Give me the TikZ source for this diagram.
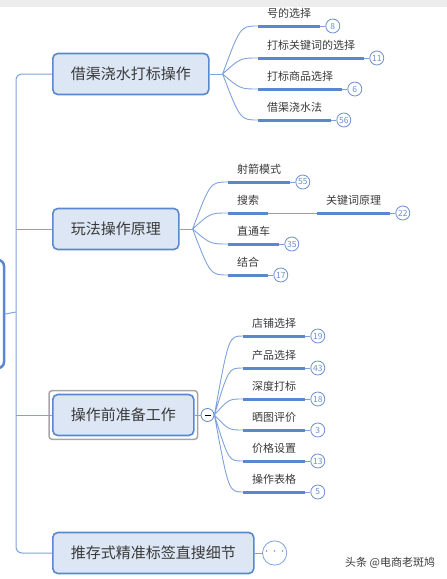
\documentclass[tikz,border=0pt]{standalone}
\usepackage{fontspec}
\setmainfont{Noto Sans CJK SC}
\usetikzlibrary{positioning,fit,calc}
\definecolor{linec}{HTML}{5A88CF}
\definecolor{twigc}{HTML}{7FA2DA}
\definecolor{boxfill}{HTML}{DCE6F4}
\definecolor{numc}{HTML}{6D91D0}
\definecolor{textc}{HTML}{3A3A3A}
\definecolor{selgray}{HTML}{A6A6A6}
\definecolor{topgray}{HTML}{EDEDED}
\tikzset{
  mainbox/.style={draw=linec, line width=1.6pt, fill=boxfill, rounded corners=5pt, anchor=west,
    minimum height=41pt, inner xsep=18pt, font=\fontsize{15}{15}\selectfont, text=textc},
  rootbox/.style={draw=linec, line width=2.5pt, fill=white, rounded corners=6pt,
    minimum width=58pt, minimum height=108pt},
  selframe/.style={draw=selgray, line width=1.5pt, rounded corners=3pt, inner sep=3pt},
  leaf/.style={anchor=south west, inner xsep=9pt, inner ysep=0pt, text depth=8pt,
    font=\fontsize{11}{11}\selectfont, text=textc},
  num/.style={circle, draw=numc, fill=white, line width=0.8pt, minimum size=14pt, inner sep=0pt,
    font=\fontsize{8.5}{8.5}\selectfont, text=numc},
  collapse/.style={circle, draw=linec, fill=white, line width=0.8pt, minimum size=13pt, inner sep=0pt},
  trunk/.style={twigc, line width=1pt},
  twig/.style={twigc, line width=0.9pt},
  bar/.style={linec, line width=3pt},
  leafcurve/.style={to path={.. controls ($(\tikztostart |- \tikztotarget)!0.5!(\tikztotarget)$) .. (\tikztotarget)}}
}
\begin{document}
\begin{tikzpicture}[x=1pt, y=-1pt]
  \clip (0,0) rectangle (447,579);
  \fill[topgray] (0,0) rectangle (447,7); % top strip

  % root and main topics
  \node[rootbox] (root) at (-25,314) {};
  \node[mainbox] (n1) at (52,74) {借渠浇水打标操作};
  \node[mainbox] (n2) at (52,229) {玩法操作原理};
  \node[mainbox] (n3) at (52,415) {操作前准备工作};
  \node[mainbox] (n4) at (52,553) {推存式精准标签直搜细节};
  \node[selframe, fit=(n3)] (n3sel) {};

  \coordinate (tr) at (16,312);
  \draw[trunk, rounded corners=6pt] (n1.west) -| (tr) |- (n4.west);
  \draw[trunk] (tr |- n2.west) -- (n2.west);
  \draw[trunk] (tr |- n3.west) -- (n3.west);
  \draw[trunk] (root.east) -- (tr);

  % branch 1
  \coordinate[right=13pt of n1.east] (f1);
  \node[leaf] (t11) at (258,26) {号的选择};
  \node[leaf] (t12) at (258,58) {打标关键词的选择};
  \node[leaf] (t13) at (258,89) {打标商品选择};
  \node[leaf] (t14) at (258,120) {借渠浇水法};
  \node[num, right=5pt of t11.south east] (c11) {8};
  \node[num, right=5pt of t12.south east] (c12) {11};
  \node[num, right=5pt of t13.south east] (c13) {6};
  \node[num, right=5pt of t14.south east] (c14) {56};
  \draw[twig] (n1.east) -- (f1);
  \draw[twig] (f1) to[leafcurve] (t11.south west) (f1) to[leafcurve] (t12.south west)
    (f1) to[leafcurve] (t13.south west) (f1) to[leafcurve] (t14.south west);
  \draw[twig] (t11.south east) -- (c11) (t12.south east) -- (c12)
    (t13.south east) -- (c13) (t14.south east) -- (c14);
  \draw[bar] (t11.south west) -- (t11.south east) (t12.south west) -- (t12.south east)
    (t13.south west) -- (t13.south east) (t14.south west) -- (t14.south east);

  % branch 2
  \coordinate[right=13pt of n2.east] (f2);
  \node[leaf] (t21) at (228,182) {射箭模式};
  \node[leaf] (t22) at (228,213) {搜索};
  \node[leaf] (t22b) at (317,213) {关键词原理};
  \node[leaf] (t23) at (228,244) {直通车};
  \node[leaf] (t24) at (228,275) {结合};
  \node[num, right=5pt of t21.south east] (c21) {55};
  \node[num, right=5pt of t22b.south east] (c22) {22};
  \node[num, right=5pt of t23.south east] (c23) {35};
  \node[num, right=5pt of t24.south east] (c24) {17};
  \draw[twig] (n2.east) -- (f2);
  \draw[twig] (f2) to[leafcurve] (t21.south west) (f2) to[leafcurve] (t22.south west)
    (f2) to[leafcurve] (t23.south west) (f2) to[leafcurve] (t24.south west);
  \draw[twig] (t21.south east) -- (c21) (t22.south east) -- (t22b.south west)
    (t22b.south east) -- (c22) (t23.south east) -- (c23) (t24.south east) -- (c24);
  \draw[bar] (t21.south west) -- (t21.south east) (t22.south west) -- (t22.south east)
    (t22b.south west) -- (t22b.south east)
    (t23.south west) -- (t23.south east) (t24.south west) -- (t24.south east);

  % branch 3
  \node[collapse, right=6pt of n3.east] (k3) {\rule{6pt}{0.7pt}};
  \node[leaf] (t31) at (243,336) {店铺选择};
  \node[leaf] (t32) at (243,368) {产品选择};
  \node[leaf] (t33) at (243,399) {深度打标};
  \node[leaf] (t34) at (243,430) {晒图评价};
  \node[leaf] (t35) at (243,461) {价格设置};
  \node[leaf] (t36) at (243,492) {操作表格};
  \node[num, right=5pt of t31.south east] (c31) {19};
  \node[num, right=5pt of t32.south east] (c32) {43};
  \node[num, right=5pt of t33.south east] (c33) {18};
  \node[num, right=5pt of t34.south east] (c34) {3};
  \node[num, right=5pt of t35.south east] (c35) {13};
  \node[num, right=5pt of t36.south east] (c36) {5};
  \draw[twig] (n3.east) -- (k3);
  \draw[twig] (k3.east) to[leafcurve] (t31.south west) (k3.east) to[leafcurve] (t32.south west)
    (k3.east) to[leafcurve] (t33.south west) (k3.east) to[leafcurve] (t34.south west)
    (k3.east) to[leafcurve] (t35.south west) (k3.east) to[leafcurve] (t36.south west);
  \draw[twig] (t31.south east) -- (c31) (t32.south east) -- (c32) (t33.south east) -- (c33)
    (t34.south east) -- (c34) (t35.south east) -- (c35) (t36.south east) -- (c36);
  \draw[bar] (t31.south west) -- (t31.south east) (t32.south west) -- (t32.south east)
    (t33.south west) -- (t33.south east) (t34.south west) -- (t34.south east)
    (t35.south west) -- (t35.south east) (t36.south west) -- (t36.south east);

  % branch 4
  \node[collapse, draw=twigc, text=numc, right=7.5pt of n4.east] (k4) {\fontsize{8}{8}\selectfont ···};
  \draw[twig] (n4.east) -- (k4);

  \node[anchor=west, inner sep=0pt, text=textc, font=\fontsize{11}{11}\selectfont] (wm) at (345,563) {头条 @电商老斑鸠};
\end{tikzpicture}
\end{document}
